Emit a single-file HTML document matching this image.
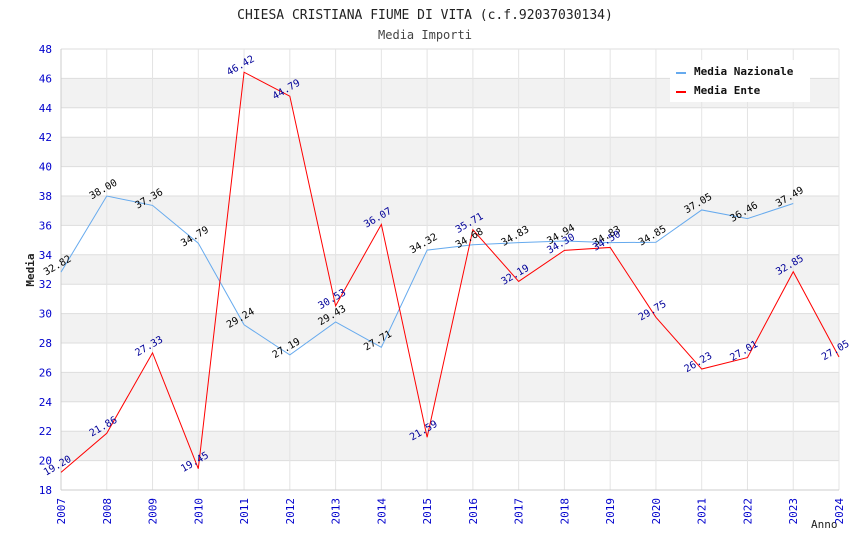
<!DOCTYPE html>
<html><head><meta charset="utf-8"><style>
body{margin:0;background:#fff;}
svg{display:block;font-family:"DejaVu Sans Mono","Liberation Mono",monospace;}
</style></head><body>
<svg id="c" width="850" height="550">
<text x="425" y="19" text-anchor="middle" font-size="13" fill="#222">CHIESA CRISTIANA FIUME DI VITA (c.f.92037030134)</text>
<text x="425" y="39" text-anchor="middle" font-size="12" fill="#444">Media Importi</text>
<text x="34" y="270" text-anchor="middle" font-size="11" font-weight="bold" fill="#222" transform="rotate(-90 34 270)">Media</text>
<text x="811" y="528" font-size="11" fill="#222">Anno</text>
<g id="bands"></g><g id="grid"></g><g id="ticks"></g><g id="series"></g><g id="labels"></g>
<g>
<rect x="670" y="60" width="140" height="42" fill="#fff"/>
<line x1="676" y1="73" x2="686" y2="73" stroke="#66aaee" stroke-width="2"/>
<text x="694" y="75" font-size="11" font-weight="bold" fill="#111">Media Nazionale</text>
<line x1="676" y1="92" x2="686" y2="92" stroke="red" stroke-width="2"/>
<text x="694" y="94" font-size="11" font-weight="bold" fill="#111">Media Ente</text>
</g>
</svg>
<script>
const years=[2007,2008,2009,2010,2011,2012,2013,2014,2015,2016,2017,2018,2019,2020,2021,2022,2023,2024];
const naz=[32.82,38.00,37.36,34.79,29.24,27.19,29.43,27.71,34.32,34.68,34.83,34.94,34.83,34.85,37.05,36.46,37.49,null];
const ente=[19.20,21.86,27.33,19.45,46.42,44.79,30.53,36.07,21.59,35.71,32.19,34.30,34.50,29.75,26.23,27.01,32.85,27.05];
const yTicks=[18,20,22,24,26,28,30,32,34,36,38,40,42,44,46,48];
const NS="http://www.w3.org/2000/svg";
const x0=61,x1=839,y0=490,y1=49,yMin=18,yMax=48;
const X=i=>x0+(x1-x0)*(years[i]-years[0])/(years[years.length-1]-years[0]);
const Y=v=>y0-(y0-y1)*(v-yMin)/(yMax-yMin);
function mk(t,a,p){const e=document.createElementNS(NS,t);for(const k in a)e.setAttribute(k,a[k]);document.getElementById(p).appendChild(e);return e;}
for(let i=0;i<yTicks.length-1;i++){
  if(i%2===1){const b=mk('rect',{x:x0,y:Y(yTicks[i+1]),width:x1-x0,height:Y(yTicks[i])-Y(yTicks[i+1]),fill:'#f2f2f2'},'bands');
  
  }
}
yTicks.forEach(v=>{
  const l=mk('line',{x1:x0,x2:x1,y1:Y(v),y2:Y(v),stroke:'#ddd'},'grid');
  
  
  const t=mk('text',{x:52,y:Y(v)+4,'text-anchor':'end','font-size':11,fill:'#0000cc'},'ticks');
  t.textContent=v;
  
  
});
years.forEach((yr,i)=>{
  const l=mk('line',{x1:X(i),x2:X(i),y1:y1,y2:y0,stroke:'#e4e4e4'},'grid');
  
  
  const t=mk('text',{x:X(i)+4,y:y0+8,'text-anchor':'end','font-size':11,fill:'#0000cc',transform:`rotate(-90 ${X(i)+4} ${y0+8})`},'ticks');
  t.textContent=yr;
  
  
});
mk('line',{x1:x0,x2:x0,y1:y1,y2:y0,stroke:'#ccc'},'grid');
mk('line',{x1:x0,x2:x1,y1:y0,y2:y0,stroke:'#ccc'},'grid');
function series(arr,color,col,name){
  const pts=[];arr.forEach((v,i)=>{if(v!==null)pts.push(X(i)+','+Y(v));});
  const p=mk('polyline',{points:pts.join(' '),fill:'none',stroke:color,'stroke-width':1},'series');
  
  
  arr.forEach((v,i)=>{if(v===null)return;
    const x=X(i)-2,y=Y(v)-4;
    const t=mk('text',{x:x,y:y,'text-anchor':'middle','font-size':10,fill:col,transform:`rotate(-30 ${x} ${y})`},'labels');
    t.textContent=v.toFixed(2);
    
    
  });
}
series(naz,'#66aaee','#000','nazionale');
series(ente,'red','#000099','ente');
</script>
</body></html>
